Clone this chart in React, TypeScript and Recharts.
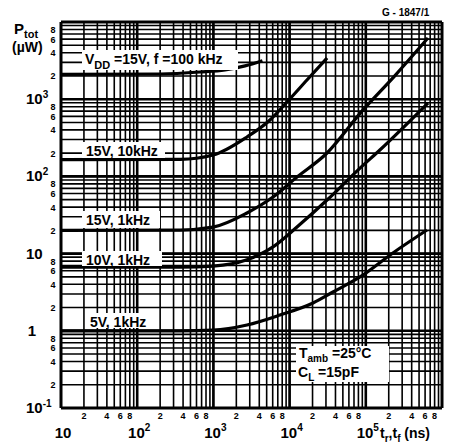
import { LineChart, Line, XAxis, YAxis, CartesianGrid, ReferenceLine } from "recharts";

// axis decades and grid mantissas
const T_DECADES = [10, 100, 1000, 10000, 100000];
const P_DECADES = [0.1, 1, 10, 100, 1000];
const MANTISSAS = [1, 2, 3, 4, 5, 6, 7, 8, 9];
const LABELLED = [2, 4, 6, 8];
const T_MAX = 1000000;
const P_MAX = 10000;

const X_TICKS = [...T_DECADES.flatMap((d) => MANTISSAS.map((m) => m * d)), T_MAX];
const Y_TICKS = [...P_DECADES.flatMap((d) => MANTISSAS.map((m) => m * d)), P_MAX];

// curves: t_r,t_f (ns) vs P_tot (uW)
const T_15V_100K = [10, 200, 670, 1420, 2600, 4400];
const P_15V_100K = [2100, 2120, 2250, 2400, 2700, 3150];

const T_15V_10K = [10, 365, 990, 2760, 5530, 9250, 16900, 31000];
const P_15V_10K = [165, 166, 189, 324, 538, 920, 1775, 3420];

const T_15V_1K = [10, 365, 990, 2760, 6060, 12500, 31000, 89100, 250000, 655000];
const P_15V_1K = [20, 20.2, 22, 33.6, 54, 98, 201, 700, 2100, 6210];

const T_10V_1K = [10, 365, 990, 2760, 6060, 12500, 31000, 84000, 153000, 655000];
const P_10V_1K = [6.7, 6.7, 6.9, 8.3, 12.2, 22.1, 49.4, 128, 220, 893];

const T_5V_1K = [10, 365, 990, 2760, 7480, 20300, 37100, 84000, 227000, 635000];
const P_5V_1K = [1.0, 1.0, 1.02, 1.19, 1.6, 2.29, 3.18, 4.98, 10.2, 20.2];

const zip = (t: number[], p: number[]) => t.map((v, i) => ({ t: v, p: p[i] }));

const SERIES = [
  zip(T_15V_100K, P_15V_100K),
  zip(T_15V_10K, P_15V_10K),
  zip(T_15V_1K, P_15V_1K),
  zip(T_10V_1K, P_10V_1K),
  zip(T_5V_1K, P_5V_1K),
];

const FONT = "'Liberation Sans', Arial, sans-serif";

const split = (v: number) => {
  const exp = Math.floor(Math.log10(v) + 1e-9);
  const m = Math.round(v / Math.pow(10, exp));
  return { exp, m };
};

function YTick(props: any) {
  const { y, payload } = props;
  const { exp, m } = split(payload.value);
  if (LABELLED.includes(m)) {
    return (
      <text x={53} y={y + 3.5} fontSize={9} fontWeight="bold" textAnchor="middle" fontFamily={FONT} fill="#000">
        {m}
      </text>
    );
  }
  if (m === 1 && exp < 4) {
    if (exp === 0) {
      return (
        <text x={32} y={y + 5} fontSize={15} fontWeight="bold" textAnchor="middle" fontFamily={FONT} fill="#000">
          1
        </text>
      );
    }
    return (
      <text x={26} y={y + 5} fontSize={15} fontWeight="bold" fontFamily={FONT} fill="#000">
        10
        {exp !== 1 && (
          <tspan dy={-6} fontSize={10}>
            {exp === -1 ? "-1" : exp}
          </tspan>
        )}
      </text>
    );
  }
  return <g />;
}

function XTick(props: any) {
  const { x, payload } = props;
  const { exp, m } = split(payload.value);
  if (LABELLED.includes(m)) {
    return (
      <text x={x} y={419} fontSize={9} fontWeight="bold" textAnchor="middle" fontFamily={FONT} fill="#000">
        {m}
      </text>
    );
  }
  if (m === 1 && exp < 6) {
    return (
      <text x={x + 2} y={438} fontSize={15} fontWeight="bold" textAnchor="middle" fontFamily={FONT} fill="#000">
        10
        {exp !== 1 && (
          <tspan dy={-7} fontSize={10}>
            {exp}
          </tspan>
        )}
      </text>
    );
  }
  return <g />;
}

function Box({ x, y, w, h }: { x: number; y: number; w: number; h: number }) {
  return <rect x={x} y={y} width={w} height={h} fill="#fff" />;
}

export default function App() {
  return (
    <div style={{ position: "absolute", left: 0, top: 0, width: 450, height: 448, background: "#fff" }}>
      <LineChart width={450} height={448} margin={{ top: 22, right: 8, left: 0, bottom: 0 }}>
        <CartesianGrid stroke="#000" strokeWidth={1.6} />
        <XAxis
          dataKey="t"
          type="number"
          scale="log"
          domain={[10, T_MAX]}
          ticks={X_TICKS}
          interval={0}
          allowDataOverflow
          height={40}
          axisLine={false}
          tickLine={false}
          tick={XTick}
        />
        <YAxis
          dataKey="p"
          type="number"
          scale="log"
          domain={[0.1, P_MAX]}
          ticks={Y_TICKS}
          interval={0}
          allowDataOverflow
          width={61}
          axisLine={false}
          tickLine={false}
          tick={YTick}
        />
        {T_DECADES.slice(1).map((d) => (
          <ReferenceLine key={"x" + d} x={d} stroke="#000" strokeWidth={2.6} />
        ))}
        {P_DECADES.slice(1).map((d) => (
          <ReferenceLine key={"y" + d} y={d} stroke="#000" strokeWidth={2.6} />
        ))}
        <ReferenceLine x={10} stroke="#000" strokeWidth={3} />
        <ReferenceLine x={T_MAX} stroke="#000" strokeWidth={3} />
        <ReferenceLine y={0.1} stroke="#000" strokeWidth={3} />
        <ReferenceLine y={P_MAX} stroke="#000" strokeWidth={3} />
        {SERIES.map((s, i) => (
          <Line
            key={i}
            data={s}
            dataKey="p"
            type="monotone"
            stroke="#000"
            strokeWidth={3.2}
            dot={false}
            isAnimationActive={false}
          />
        ))}
      </LineChart>
      <svg
        width={450}
        height={448}
        style={{ position: "absolute", left: 0, top: 0, pointerEvents: "none" }}
        fontFamily={FONT}
        fontWeight="bold"
      >
        <text x={382} y={16} fontSize={10}>G - 1847/1</text>
        <text x={14} y={34} fontSize={15}>
          P<tspan dy={4} fontSize={11}>tot</tspan>
        </text>
        <text x={12} y={52} fontSize={14}>(µW)</text>

        <Box x={82} y={50} w={156} h={20} />
        <text x={85} y={64} fontSize={14}>
          V<tspan dy={5} fontSize={11}>DD</tspan>
          <tspan dy={-5}> =15V, f =100 kHz</tspan>
        </text>

        <Box x={82} y={142} w={83} h={16} />
        <text x={86} y={156} fontSize={14}>15V, 10kHz</text>

        <Box x={82} y={211} w={78} h={17} />
        <text x={86} y={225} fontSize={14}>15V, 1kHz</text>

        <Box x={82} y={251} w={80} h={15} />
        <text x={86} y={265} fontSize={14}>10V, 1kHz</text>

        <Box x={85} y={313} w={73} h={15} />
        <text x={90} y={327} fontSize={14}>5V, 1kHz</text>

        <Box x={296} y={346} w={93} h={36} />
        <text x={299} y={358} fontSize={14}>
          T<tspan dy={4} fontSize={10}>amb</tspan>
          <tspan dy={-4}> =25°C</tspan>
        </text>
        <text x={298} y={377} fontSize={14}>
          C<tspan dy={4} fontSize={10}>L</tspan>
          <tspan dy={-4}>   =15pF</tspan>
        </text>

        <text x={380} y={438} fontSize={14}>
          t<tspan dy={4} fontSize={10}>r</tspan>
          <tspan dy={-4}>,t</tspan>
          <tspan dy={4} fontSize={10}>f</tspan>
          <tspan dy={-4}> (ns)</tspan>
        </text>
      </svg>
    </div>
  );
}
